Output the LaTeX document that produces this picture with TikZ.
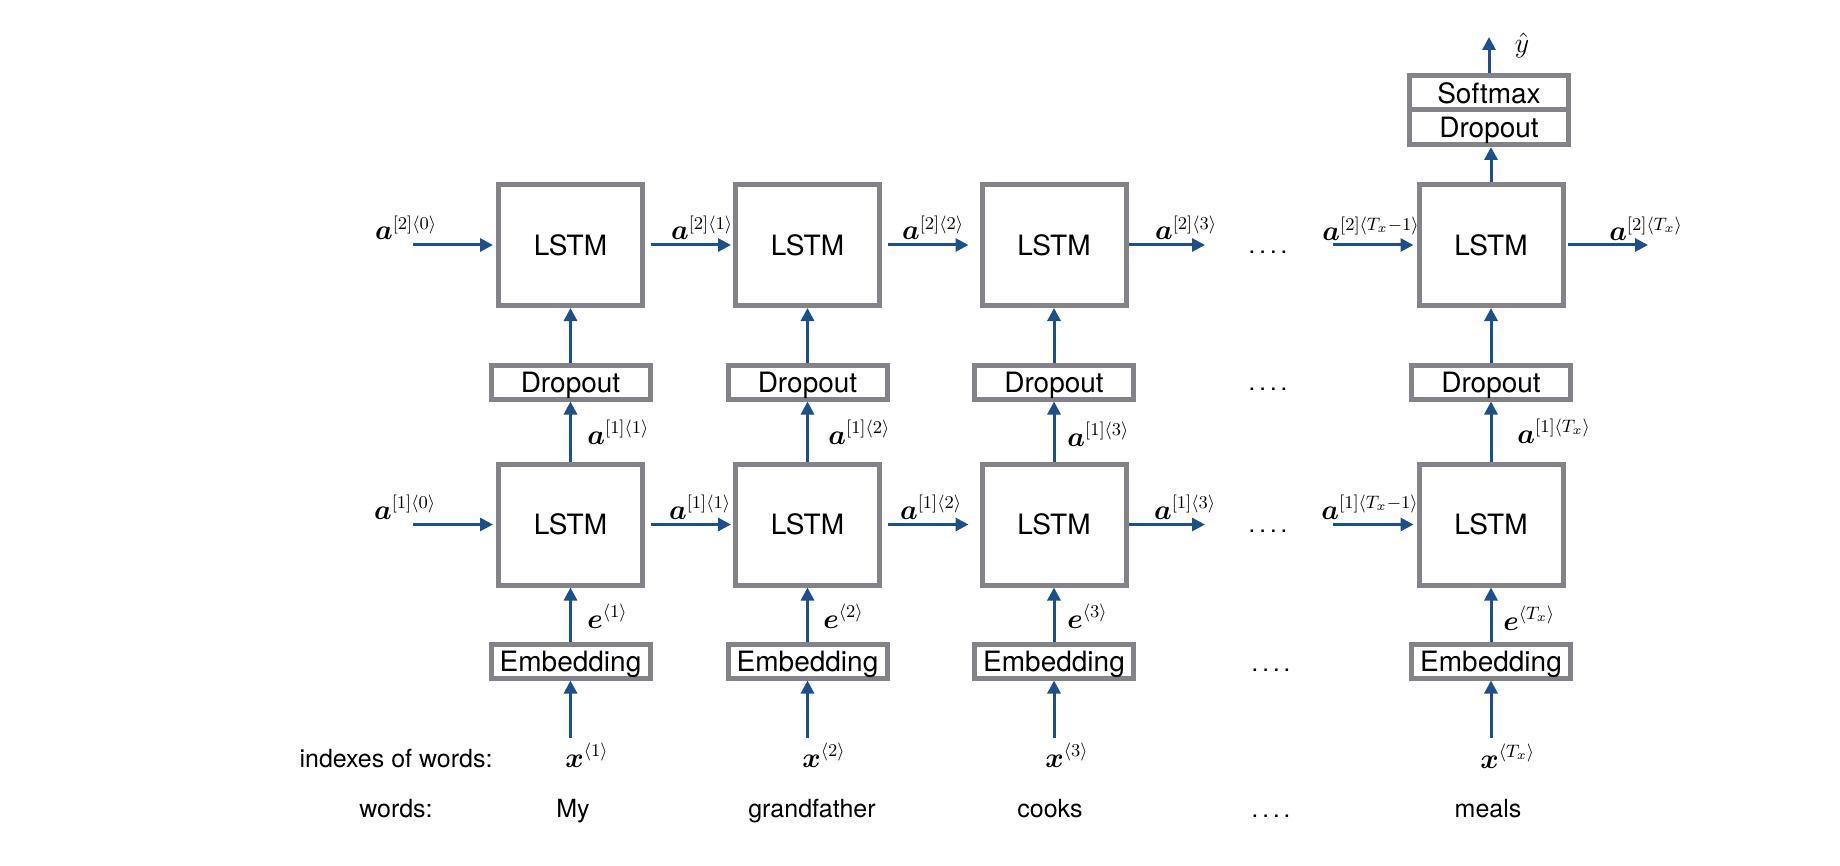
\RequirePackage{fix-cm}
\documentclass[tikz,border=0pt]{standalone}
\usepackage{amsmath,bm}
\usepackage{fontspec}
\setsansfont{TeX Gyre Heros}
\usetikzlibrary{arrows.meta}
\DeclareMathSizes{14}{14}{9}{6.5}
\definecolor{boxgray}{RGB}{130,132,137}
\definecolor{arrblue}{RGB}{28,80,140}
\begin{document}
\begin{tikzpicture}[x=0.5pt,y=-0.5pt,
  lstmbox/.style={draw=boxgray, line width=2.5pt, fill=white, minimum width=72pt, minimum height=60.5pt, inner sep=0pt, font=\sffamily\fontsize{14}{16}\selectfont},
  thinbox/.style={draw=boxgray, line width=2.5pt, minimum width=79.5pt, minimum height=17pt, inner sep=0pt, text depth=0pt, font=\sffamily\fontsize{14}{16}\selectfont},
  arr/.style={draw=arrblue, line width=1.5pt, -{Triangle[length=6.5pt,width=6.5pt]}},
  mlbl/.style={font=\fontsize{14}{16}\selectfont, inner sep=0pt, anchor=base},
  mlblw/.style={font=\fontsize{14}{16}\selectfont, inner sep=0pt, anchor=base west},
  txt/.style={font=\sffamily\fontsize{12.5}{15}\selectfont, inner sep=0pt, anchor=base},
  dots/.style={font=\sffamily\fontsize{12}{14}\selectfont, inner sep=0pt, anchor=base}
]
\useasboundingbox (0,0) rectangle (1840,866);

% columns
\foreach \i/\cx in {1/570.5,2/807.5,3/1054,4/1491} {
  \node[lstmbox] (t\i) at (\cx,245) {LSTM};
  \node[thinbox] (d\i) at (\cx,382) {Dropout};
  \node[lstmbox] (b\i) at (\cx,524.5) {LSTM};
  \node[thinbox] (e\i) at (\cx,661) {Embedding};
  \coordinate (xin\i) at (\cx,738);
  \draw[arr] (xin\i) -- (e\i.south);
  \draw[arr] (e\i.north) -- (b\i.south);
  \draw[arr] (b\i.north) -- (d\i.south);
  \draw[arr] (d\i.north) -- (t\i.south);
}

% output stack
\node[thinbox, minimum height=17.25pt] (dd) at (1489,127.25) {Dropout};
\node[thinbox, minimum height=17.25pt] (sm) at (1489,92.75) {Softmax};
\draw[arr] (t4.north) -- (t4.north |- dd.south);
\coordinate (yout) at (1489,37);
\draw[arr] (sm.north) -- (yout);
\node[mlbl] (yhat) at (1522,53) {$\hat{y}$};

% horizontal arrows, top row
\coordinate (tin1) at (413,245);
\draw[arr, shorten >=1.5pt] (tin1) -- (t1.west);
\draw[arr, shorten <=3pt, shorten >=1pt] (t1.east) -- (t2.west);
\draw[arr, shorten <=3pt, shorten >=5.5pt] (t2.east) -- (t3.west);
\coordinate (tout3) at (1205,245);
\draw[arr] (t3.east) -- (tout3);
\coordinate (tin4) at (1333,245);
\draw[arr, shorten >=1.5pt] (tin4) -- (t4.west);
\coordinate (tout4) at (1648,245);
\draw[arr, shorten <=1pt] (t4.east) -- (tout4);

% horizontal arrows, bottom row
\coordinate (bin1) at (413,524.5);
\draw[arr, shorten >=1.5pt] (bin1) -- (b1.west);
\draw[arr, shorten <=3pt, shorten >=1pt] (b1.east) -- (b2.west);
\draw[arr, shorten <=3pt, shorten >=5.5pt] (b2.east) -- (b3.west);
\coordinate (bout3) at (1205,524.5);
\draw[arr] (b3.east) -- (bout3);
\coordinate (bin4) at (1333,524.5);
\draw[arr, shorten >=1.5pt] (bin4) -- (b4.west);

% labels top row
\node[mlbl] (la20) at (406,240) {$\bm{a}^{[2]\langle 0\rangle}$};
\node[mlbl] (la21) at (702,240) {$\bm{a}^{[2]\langle 1\rangle}$};
\node[mlbl] (la22) at (933,240) {$\bm{a}^{[2]\langle 2\rangle}$};
\node[mlbl] (la23) at (1186,240) {$\bm{a}^{[2]\langle 3\rangle}$};
\node[mlbl] (la2T1) at (1371,241) {$\bm{a}^{[2]\langle T_x-1\rangle}$};
\node[mlbl] (la2T) at (1646,241) {$\bm{a}^{[2]\langle T_x\rangle}$};

% labels bottom row
\node[mlbl] (la10) at (405,519) {$\bm{a}^{[1]\langle 0\rangle}$};
\node[mlbl] (la11) at (700,519) {$\bm{a}^{[1]\langle 1\rangle}$};
\node[mlbl] (la12) at (931,519) {$\bm{a}^{[1]\langle 2\rangle}$};
\node[mlbl] (la13) at (1185,519) {$\bm{a}^{[1]\langle 3\rangle}$};
\node[mlbl] (la1T1) at (1370,519) {$\bm{a}^{[1]\langle T_x-1\rangle}$};

% vertical labels
\node[mlblw] (va1) at (587,444) {$\bm{a}^{[1]\langle 1\rangle}$};
\node[mlblw] (va2) at (828,444) {$\bm{a}^{[1]\langle 2\rangle}$};
\node[mlblw] (va3) at (1067,446) {$\bm{a}^{[1]\langle 3\rangle}$};
\node[mlblw] (va4) at (1517,443) {$\bm{a}^{[1]\langle T_x\rangle}$};
\node[mlblw] (ve1) at (587,628) {$\bm{e}^{\langle 1\rangle}$};
\node[mlblw] (ve2) at (823,628) {$\bm{e}^{\langle 2\rangle}$};
\node[mlblw] (ve3) at (1067,628) {$\bm{e}^{\langle 3\rangle}$};
\node[mlblw] (ve4) at (1503,630) {$\bm{e}^{\langle T_x\rangle}$};
\node[mlblw] (vx1) at (565,767) {$\bm{x}^{\langle 1\rangle}$};
\node[mlblw] (vx2) at (802,767) {$\bm{x}^{\langle 2\rangle}$};
\node[mlblw] (vx3) at (1045,767) {$\bm{x}^{\langle 3\rangle}$};
\node[mlblw] (vx4) at (1480,768) {$\bm{x}^{\langle T_x\rangle}$};

% row captions and words
\node[txt] (cap1) at (396,767) {indexes of words:};
\node[txt] (cap2) at (396,817) {words:};
\node[txt] (w1) at (573,817) {My};
\node[txt] (w2) at (812,817) {grandfather};
\node[txt] (w3) at (1050,817) {cooks};
\node[txt] (w4) at (1488,817) {meals};

% dots
\node[dots] (dt1) at (1268,254) {.\hspace{2pt}.\hspace{2pt}.\hspace{2pt}.};
\node[dots] (dt2) at (1268,390) {.\hspace{2pt}.\hspace{2pt}.\hspace{2pt}.};
\node[dots] (dt3) at (1268,532) {.\hspace{2pt}.\hspace{2pt}.\hspace{2pt}.};
\node[dots] (dt4) at (1271,671) {.\hspace{2pt}.\hspace{2pt}.\hspace{2pt}.};
\node[dots] (dt5) at (1271,817) {.\hspace{2pt}.\hspace{2pt}.\hspace{2pt}.};
\end{tikzpicture}
\end{document}
